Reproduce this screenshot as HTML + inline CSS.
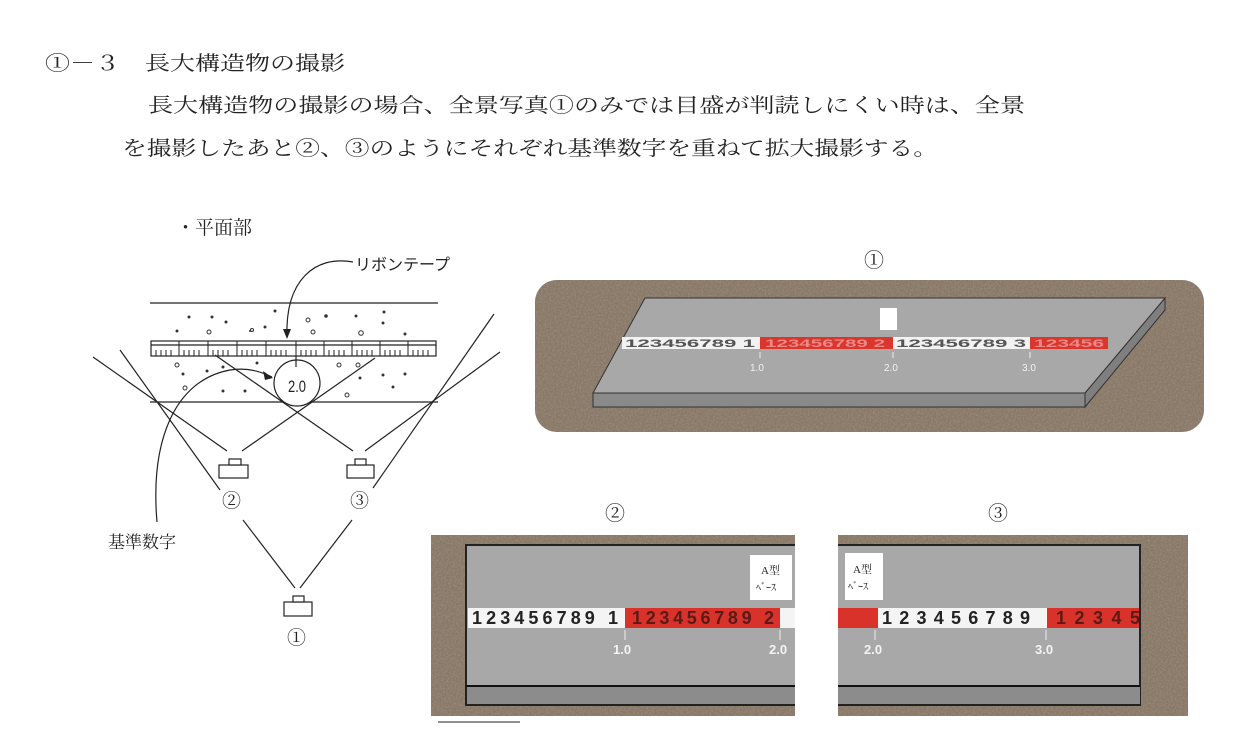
<!DOCTYPE html>
<html><head><meta charset="utf-8"><style>
html,body{margin:0;padding:0;background:#fff;}
svg{display:block;}
text{font-family:"Liberation Serif","Noto Serif CJK JP","Noto Sans CJK JP",serif;fill:#222;}
.s{font-family:"Liberation Sans","Noto Sans CJK JP",sans-serif;}
</style></head><body>
<svg width="1246" height="747" viewBox="0 0 1246 747" xmlns="http://www.w3.org/2000/svg">
<defs>
<filter id="gr" x="0" y="0" width="100%" height="100%">
<feTurbulence type="fractalNoise" baseFrequency="0.6" numOctaves="3" seed="4" result="n"/>
<feColorMatrix in="n" type="matrix" values="0 0 0 0 0.30  0 0 0 0 0.25  0 0 0 0 0.20  0 0 0 -2.4 1.5" result="c"/>
<feComposite in="c" in2="SourceGraphic" operator="in"/>
</filter>
<clipPath id="c1"><rect x="535" y="280" width="669" height="152" rx="22"/></clipPath>
<clipPath id="c2"><rect x="431" y="535" width="364" height="181"/></clipPath>
<clipPath id="c3"><rect x="838" y="535" width="350" height="181"/></clipPath>
</defs>

<text x="45" y="70" font-size="20" textLength="300" lengthAdjust="spacingAndGlyphs">①－３　長大構造物の撮影</text>
<text x="148" y="112" font-size="20" textLength="877" lengthAdjust="spacingAndGlyphs">長大構造物の撮影の場合、全景写真①のみでは目盛が判読しにくい時は、全景</text>
<text x="122" y="155" font-size="20" textLength="816" lengthAdjust="spacingAndGlyphs">を撮影したあと②、③のようにそれぞれ基準数字を重ねて拡大撮影する。</text>

<text x="176" y="234" font-size="19">・平面部</text>
<text x="355" y="270" font-size="16" class="s">リボンテープ</text>
<g stroke="#222" stroke-width="1.2" fill="none">
<line x1="150" y1="303" x2="438" y2="303"/>
<line x1="150" y1="402" x2="438" y2="402"/>
<rect x="151" y="341" width="285" height="15" fill="#fff"/>
<line x1="151" y1="345" x2="436" y2="345"/>
</g>
<g stroke="#222" stroke-width="1">
<path d="M179 341v15M208 341v15M237 341v15M266 341v15M296 341v15M324 341v15M352 341v15M380 341v15M408 341v15"/>
<path d="M156 350v6M161 350v6M166 350v6M171 350v6M184 350v6M189 350v6M194 350v6M199 350v6M213 350v6M218 350v6M223 350v6M228 350v6M242 350v6M247 350v6M252 350v6M257 350v6M271 350v6M276 350v6M281 350v6M286 350v6M301 350v6M306 350v6M311 350v6M316 350v6M329 350v6M334 350v6M339 350v6M344 350v6M357 350v6M362 350v6M367 350v6M372 350v6M385 350v6M390 350v6M395 350v6M400 350v6M413 350v6M418 350v6M423 350v6M428 350v6"/>
</g>
<g fill="#333">
<circle cx="189" cy="317" r="1.5"/><circle cx="212" cy="317" r="1.5"/><circle cx="226" cy="322" r="1.5"/><circle cx="275" cy="311" r="1.5"/><circle cx="265" cy="327" r="1.5"/><circle cx="326" cy="316" r="1.8"/><circle cx="356" cy="316" r="1.5"/><circle cx="384" cy="312" r="1.5"/><circle cx="383" cy="323" r="1.5"/><circle cx="405" cy="334" r="1.5"/><circle cx="177" cy="331" r="1.5"/><circle cx="250" cy="331" r="1"/>
<circle cx="183" cy="374" r="1.5"/><circle cx="207" cy="371" r="1.5"/><circle cx="223" cy="367" r="1.5"/><circle cx="257" cy="363" r="1.5"/><circle cx="223" cy="391" r="1.5"/><circle cx="245" cy="391" r="1.5"/><circle cx="360" cy="378" r="1.5"/><circle cx="383" cy="375" r="1.5"/><circle cx="405" cy="374" r="1.5"/><circle cx="393" cy="387" r="1.5"/>
</g>
<g fill="none" stroke="#333" stroke-width="1">
<circle cx="177" cy="365" r="2"/><circle cx="185" cy="388" r="2"/><circle cx="209" cy="332" r="2"/><circle cx="308" cy="320" r="2"/><circle cx="313" cy="332" r="2"/><circle cx="361" cy="333" r="2.3"/><circle cx="339" cy="365" r="2"/><circle cx="358" cy="365" r="2"/><circle cx="347" cy="395" r="2"/><circle cx="252" cy="330" r="1.5"/>
</g>
<g stroke="#222" stroke-width="1.2" fill="none">
<circle cx="297" cy="383" r="23" fill="#fff"/>
<line x1="296" y1="356" x2="296" y2="367"/>
<path d="M93 357 L227 451"/><path d="M120 350 L220 490"/>
<path d="M242 451 L375 358"/><path d="M215 355 L353 451"/>
<path d="M365 451 L500 352"/><path d="M373 488 L494 314"/>
<path d="M243 520 L295 588"/><path d="M352 520 L300 588"/>
<rect x="219" y="465" width="29" height="13" fill="#fff"/><rect x="229" y="459" width="12" height="6" fill="#fff"/>
<rect x="347" y="465" width="27" height="13" fill="#fff"/><rect x="355" y="459" width="11" height="6" fill="#fff"/>
<rect x="284" y="602" width="28" height="14" fill="#fff"/><rect x="293" y="596" width="11" height="6" fill="#fff"/>
<path d="M157 522 C150 440 175 380 230 370 C248 367 262 372 272 377"/>
<path d="M353 262 C315 255 285 280 287 337"/>
</g>
<path d="M273 378 L263 371 L265 380 Z" fill="#222"/>
<path d="M287 339 L283 329 L291 329 Z" fill="#222"/>
<text x="288" y="392" font-size="17" class="s" textLength="18" lengthAdjust="spacingAndGlyphs">2.0</text>
<text x="222" y="507" font-size="19">②</text>
<text x="350" y="507" font-size="19">③</text>
<text x="287" y="644" font-size="19">①</text>
<text x="108" y="548" font-size="17">基準数字</text>

<text x="864" y="267" font-size="20">①</text>
<g clip-path="url(#c1)">
<rect x="535" y="280" width="669" height="152" fill="#8a7866"/>
<rect x="535" y="280" width="669" height="152" fill="#fff" filter="url(#gr)"/>
<polygon points="1085,393 1165,298 1165,310 1085,407" fill="#7f7f7f" stroke="#333"/>
<rect x="593" y="393" width="492" height="14" fill="#8a8a8a" stroke="#333"/>
<polygon points="645,298 1165,298 1085,393 593,393" fill="#a8a8a8" stroke="#333"/>
<rect x="622" y="337" width="138" height="12" fill="#f2f2f2"/>
<rect x="760" y="337" width="133" height="12" fill="#d9362c"/>
<rect x="893" y="337" width="137" height="12" fill="#f2f2f2"/>
<rect x="1030" y="337" width="78" height="12" fill="#d9362c"/>
<text x="625" y="347" font-size="11" class="s" font-weight="bold" style="fill:#555" textLength="130" lengthAdjust="spacingAndGlyphs">123456789 1</text>
<text x="765" y="347" font-size="11" class="s" font-weight="bold" style="fill:#e88" textLength="120" lengthAdjust="spacingAndGlyphs">123456789 2</text>
<text x="896" y="347" font-size="11" class="s" font-weight="bold" style="fill:#555" textLength="130" lengthAdjust="spacingAndGlyphs">123456789 3</text>
<text x="1034" y="347" font-size="11" class="s" font-weight="bold" style="fill:#e88" textLength="70" lengthAdjust="spacingAndGlyphs">123456</text>
<rect x="880" y="308" width="17" height="22" fill="#fff"/>
<g stroke="#eee"><line x1="760" y1="352" x2="760" y2="358"/><line x1="893" y1="352" x2="893" y2="358"/><line x1="1030" y1="352" x2="1030" y2="358"/></g>
<text x="750" y="371" font-size="10" class="s" style="fill:#f2f2f2">1.0</text>
<text x="884" y="371" font-size="10" class="s" style="fill:#f2f2f2">2.0</text>
<text x="1022" y="371" font-size="10" class="s" style="fill:#f2f2f2">3.0</text>
</g>

<text x="605" y="520" font-size="20">②</text>
<g clip-path="url(#c2)">
<rect x="431" y="535" width="364" height="181" fill="#8a7866"/>
<rect x="431" y="535" width="364" height="181" fill="#fff" filter="url(#gr)"/>
<rect x="466" y="545" width="340" height="160" fill="#a8a8a8" stroke="#222" stroke-width="2"/>
<rect x="467" y="687" width="340" height="17" fill="#8c8c8c"/>
<line x1="466" y1="686" x2="800" y2="686" stroke="#111" stroke-width="2"/>
<rect x="468" y="608" width="157" height="20" fill="#f4f4f4"/>
<rect x="625" y="608" width="155" height="20" fill="#d9322a"/>
<rect x="780" y="608" width="20" height="20" fill="#f4f4f4"/>
<text x="472" y="624" font-size="18" class="s" style="fill:#222" textLength="146" font-weight="bold">123456789 1</text>
<text x="632" y="624" font-size="18" class="s" style="fill:#5a1a16" textLength="142" font-weight="bold">123456789 2</text>
<rect x="750" y="555" width="42" height="45" fill="#fff"/>
<text x="761" y="574" font-size="11">A型</text>
<text x="756" y="591" font-size="10">ﾍﾞｰｽ</text>
<g stroke="#eee"><line x1="625" y1="630" x2="625" y2="640"/><line x1="780" y1="630" x2="780" y2="640"/></g>
<text x="613" y="654" font-size="13" class="s" style="fill:#f4f4f4" font-weight="bold">1.0</text>
<text x="769" y="654" font-size="13" class="s" style="fill:#f4f4f4" font-weight="bold">2.0</text>
</g>
<line x1="438" y1="722" x2="520" y2="722" stroke="#222" stroke-width="1"/>

<text x="988" y="520" font-size="20">③</text>
<g clip-path="url(#c3)">
<rect x="838" y="535" width="350" height="181" fill="#8a7866"/>
<rect x="838" y="535" width="350" height="181" fill="#fff" filter="url(#gr)"/>
<rect x="830" y="545" width="310" height="160" fill="#a8a8a8" stroke="#222" stroke-width="2"/>
<rect x="830" y="687" width="310" height="17" fill="#8c8c8c"/>
<line x1="830" y1="686" x2="1140" y2="686" stroke="#111" stroke-width="2"/>
<rect x="838" y="608" width="40" height="20" fill="#d9322a"/>
<rect x="878" y="608" width="169" height="20" fill="#f4f4f4"/>
<rect x="1047" y="608" width="92" height="20" fill="#d9322a"/>
<text x="882" y="624" font-size="18" class="s" style="fill:#222" textLength="148" font-weight="bold">123456789</text>
<text x="1056" y="624" font-size="18" class="s" style="fill:#5a1a16" textLength="84" font-weight="bold">12345</text>
<rect x="845" y="553" width="38" height="47" fill="#fff"/>
<text x="853" y="573" font-size="11">A型</text>
<text x="848" y="590" font-size="10">ﾍﾞｰｽ</text>
<g stroke="#eee"><line x1="875" y1="630" x2="875" y2="640"/><line x1="1046" y1="630" x2="1046" y2="640"/></g>
<text x="864" y="654" font-size="13" class="s" style="fill:#f4f4f4" font-weight="bold">2.0</text>
<text x="1035" y="654" font-size="13" class="s" style="fill:#f4f4f4" font-weight="bold">3.0</text>
</g>
</svg>
</body></html>
